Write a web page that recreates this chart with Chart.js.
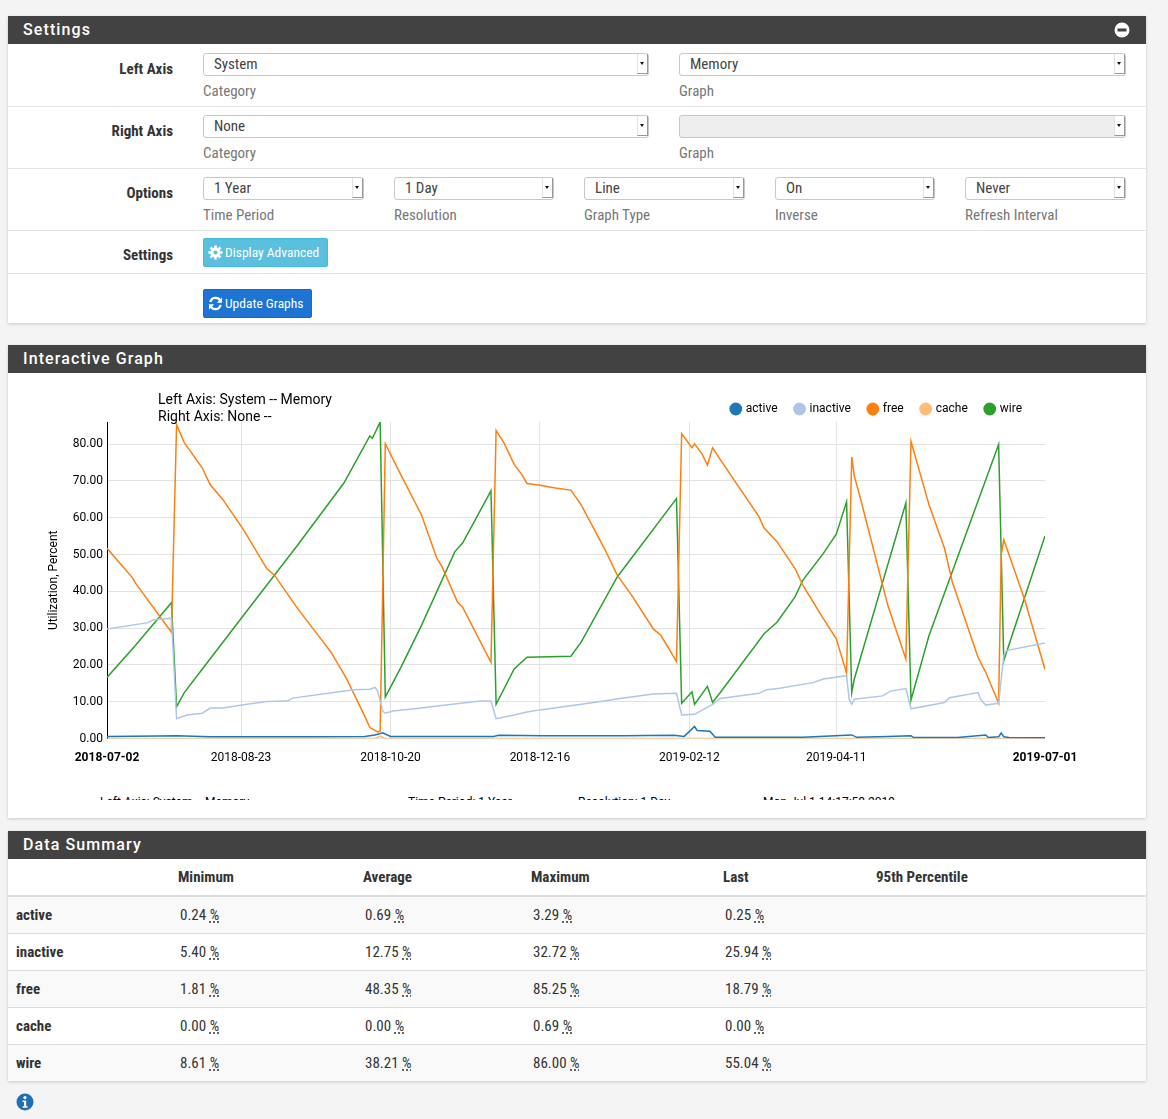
<!DOCTYPE html>
<html>
<head>
<meta charset="utf-8">
<title>Status: Monitoring</title>
<script src="https://cdn.jsdelivr.net/npm/chart.js@4.4.1/dist/chart.umd.min.js"></script>
<style>
  body { margin: 0; background: #f4f4f4; font-family: "Roboto Condensed", "Liberation Sans Narrow", Roboto, sans-serif; color: #333; }
  .abs { position: absolute; }
  .panel { position: absolute; left: 8px; width: 1138px; background: #fff; box-shadow: 0 1px 3px rgba(0,0,0,.18); }
  .ph { position: absolute; left: 0; top: 0; width: 100%; height: 28px; background: #424242; color: #fff;
        font-family: Roboto, sans-serif; font-size: 16px; font-weight: 500; letter-spacing: 1.1px; line-height: 28px; text-indent: 15px; }
  .hr { position: absolute; left: 0; width: 100%; height: 1px; background: #e4e4e4; }
  .lbl { position: absolute; width: 165px; text-align: right; font-weight: bold; font-size: 15px; line-height: 20px; color: #333; }
  .help { position: absolute; font-size: 15px; line-height: 20px; color: #777; }
  .sel { position: absolute; height: 23px; box-sizing: border-box; border: 1px solid #c8c8c8; border-radius: 3px; background: #fff;
         font-size: 15px; line-height: 21px; padding-left: 10px; color: #444; }
  .sel.dis { background: #eee; }
  .sel .arr { position: absolute; right: 0; top: 0; width: 9px; height: 19px; background: #fff; border-right: 1px solid #999; border-bottom: 1px solid #999; border-left: 1px solid #e2e2e2; }
  .sel .arr:after { content: ""; position: absolute; left: 2px; top: 8px; border-left: 2.5px solid transparent; border-right: 2.5px solid transparent; border-top: 3px solid #111; }
  .btn { position: absolute; height: 29px; box-sizing: border-box; border-radius: 2px; color: #fff; font-size: 13.5px; line-height: 27px; padding-left: 4px; white-space: nowrap; }
  .btn svg { vertical-align: -3px; margin-right: 2px; }
  table { border-collapse: collapse; width: 100%; font-size: 15px; }
  th { text-align: left; font-weight: bold; height: 36px; padding: 0 8px; border-bottom: 2px solid #ddd; }
  td { height: 36px; padding: 0 8px 0 10px; border-top: 1px solid #ddd; }
  tbody tr:nth-child(odd) { background: #f9f9f9; }
  td.name { font-weight: bold; padding-left: 8px; }
  abbr { text-decoration: underline dotted; text-underline-offset: 2px; }
  .foot { position: absolute; left: 0; top: 451px; width: 100%; height: 4px; overflow: hidden; }
  .foot span { position: absolute; top: -1px; font-family: Roboto, sans-serif; font-size: 12px; line-height: 14px; color: #000; white-space: nowrap; }
</style>
</head>
<body>

<!-- Settings panel -->
<div class="panel" style="top:16px;height:307px;">
  <div class="ph">Settings
    <svg class="abs" style="right:16px;top:6px" width="16" height="16" viewBox="0 0 16 16"><circle cx="8" cy="8" r="7.5" fill="#fff"/><rect x="3.5" y="6.5" width="9" height="3" fill="#424242"/></svg>
  </div>
  <div class="hr" style="top:90px"></div>
  <div class="hr" style="top:152px"></div>
  <div class="hr" style="top:214px"></div>
  <div class="hr" style="top:257px"></div>

  <div class="lbl" style="top:43px">Left Axis</div>
  <div class="sel" style="left:195px;top:37px;width:446px">System<span class="arr"></span></div>
  <div class="help" style="left:195px;top:65px">Category</div>
  <div class="sel" style="left:671px;top:37px;width:447px">Memory<span class="arr"></span></div>
  <div class="help" style="left:671px;top:65px">Graph</div>

  <div class="lbl" style="top:105px">Right Axis</div>
  <div class="sel" style="left:195px;top:99px;width:446px">None<span class="arr"></span></div>
  <div class="help" style="left:195px;top:127px">Category</div>
  <div class="sel dis" style="left:671px;top:99px;width:447px"><span class="arr"></span></div>
  <div class="help" style="left:671px;top:127px">Graph</div>

  <div class="lbl" style="top:167px">Options</div>
  <div class="sel" style="left:195px;top:161px;width:161px">1 Year<span class="arr"></span></div>
  <div class="help" style="left:195px;top:189px">Time Period</div>
  <div class="sel" style="left:386px;top:161px;width:160px">1 Day<span class="arr"></span></div>
  <div class="help" style="left:386px;top:189px">Resolution</div>
  <div class="sel" style="left:576px;top:161px;width:161px">Line<span class="arr"></span></div>
  <div class="help" style="left:576px;top:189px">Graph Type</div>
  <div class="sel" style="left:767px;top:161px;width:160px">On<span class="arr"></span></div>
  <div class="help" style="left:767px;top:189px">Inverse</div>
  <div class="sel" style="left:957px;top:161px;width:161px">Never<span class="arr"></span></div>
  <div class="help" style="left:957px;top:189px">Refresh Interval</div>

  <div class="lbl" style="top:229px">Settings</div>
  <div class="btn" style="left:195px;top:222px;width:125px;background:#5bc0de;border:1px solid #46b8da;">
    <svg width="15" height="15" viewBox="0 0 16 16"><g fill="#fff"><circle cx="8" cy="8" r="5.2"/><rect x="6.6" y="0.5" width="2.8" height="15"/><rect x="0.5" y="6.6" width="15" height="2.8"/><rect x="6.6" y="0.5" width="2.8" height="15" transform="rotate(45 8 8)"/><rect x="6.6" y="0.5" width="2.8" height="15" transform="rotate(-45 8 8)"/></g><circle cx="8" cy="8" r="2.2" fill="#5bc0de"/></svg>Display Advanced</div>

  <div class="btn" style="left:195px;top:273px;width:109px;background:#1e74d3;border:1px solid #1a68bf;">
    <svg width="15" height="15" viewBox="0 0 16 16"><path d="M13.2 5.2A5.6 5.6 0 0 0 2.6 6.5" stroke="#fff" stroke-width="2.4" fill="none"/><path d="M2.8 10.8a5.6 5.6 0 0 0 10.6-1.3" stroke="#fff" stroke-width="2.4" fill="none"/><path d="M15 1.5v5.6H9.4z M1 14.5V8.9h5.6z" fill="#fff"/></svg>Update Graphs</div>
</div>

<!-- Interactive graph panel -->
<div class="panel" style="top:345px;height:473px;">
  <div class="ph">Interactive Graph</div>
  <div class="abs" style="left:0;top:35px;width:1138px;height:412px;">
    <canvas id="chart"></canvas>
  </div>
  <div class="abs" style="left:150px;top:46px;font-family:Roboto,sans-serif;font-size:14px;line-height:17px;color:#000;white-space:nowrap;">Left Axis: System -- Memory<br>Right Axis: None --</div>
  <div class="foot">
    <span style="left:92px">Left Axis: System -- Memory</span>
    <span style="left:400px">Time Period: 1 Year</span>
    <span style="left:570px">Resolution: 1 Day</span>
    <span style="left:755px">Mon Jul 1 14:17:58 2019</span>
  </div>
</div>

<!-- Data summary panel -->
<div class="panel" style="top:831px;height:250px;">
  <div class="ph">Data Summary</div>
  <div class="abs" style="left:0;top:28px;width:1138px;">
    <table>
      <colgroup><col style="width:162px"><col style="width:185px"><col style="width:168px"><col style="width:192px"><col style="width:153px"><col></colgroup>
      <thead><tr><th></th><th>Minimum</th><th>Average</th><th>Maximum</th><th>Last</th><th>95th Percentile</th></tr></thead>
      <tbody id="summary"></tbody>
    </table>
  </div>
</div>

<svg class="abs" style="left:16px;top:1093px" width="18" height="18" viewBox="0 0 18 18"><circle cx="9" cy="9" r="8.5" fill="#1f6fb5"/><circle cx="9" cy="4.6" r="1.6" fill="#fff"/><path d="M6.6 7.4h3.6v5.8h1.4v1.6H6.6v-1.6h1.4V9H6.6z" fill="#fff"/></svg>

<script>
// x positions are days since 2018-07-02
const tickDays = [0, 52, 110, 168, 226, 283, 364];
const tickLabels = ["2018-07-02", "2018-08-23", "2018-10-20", "2018-12-16", "2019-02-12", "2019-04-11", "2019-07-01"];
const yTicks = [0, 10, 20, 30, 40, 50, 60, 70, 80];

const seriesNames = ["active", "inactive", "free", "cache", "wire"];
const seriesColors = ["#1f77b4", "#aec7e8", "#ff7f0e", "#ffbb78", "#2ca02c"];

const activeDays = [0, 20, 27, 40, 60, 80, 100, 104, 107, 110, 130, 150, 152, 170, 200, 220, 224, 228, 229, 234, 236, 250, 270, 289, 291, 303, 312, 313, 330, 341, 342, 346, 347, 348, 350, 364];
const activeVals = [0.6, 0.7, 0.8, 0.5, 0.5, 0.5, 0.6, 1.0, 1.6, 0.6, 0.6, 0.6, 0.9, 0.8, 0.8, 0.9, 0.6, 3.29, 2.2, 2.0, 0.4, 0.4, 0.35, 1.0, 0.35, 0.6, 0.8, 0.3, 0.3, 1.0, 0.3, 0.5, 1.5, 0.5, 0.3, 0.25];

const inactiveDays = [0, 16, 18, 25, 27, 31, 37, 40, 45, 53, 62, 70, 72, 88, 96, 102, 104, 105, 107, 108, 111, 122, 129, 145, 149, 151, 158, 163, 168, 191, 199, 212, 221, 223, 228, 235, 238, 253, 256, 261, 274, 278, 287, 288, 289, 290, 301, 304, 310, 312, 325, 327, 338, 339, 341, 346, 348, 349, 364];
const inactiveVals = [29.8, 31.5, 32.3, 32.72, 5.4, 6.4, 6.9, 8.3, 8.3, 9.2, 10.1, 10.2, 11.0, 12.5, 13.3, 13.4, 13.9, 13.0, 7.5, 6.9, 7.5, 8.3, 8.9, 10.2, 10.2, 5.4, 6.4, 7.2, 7.8, 10.0, 10.9, 12.1, 12.3, 6.4, 6.6, 9.3, 10.9, 12.3, 13.3, 13.7, 15.2, 16.2, 17.1, 10.7, 9.3, 10.7, 11.6, 12.9, 13.6, 8.1, 9.8, 11.1, 12.5, 10.7, 9.1, 9.6, 22.5, 23.9, 25.94];

const freeDays = [0, 10, 11, 25, 27, 30, 37, 40, 45, 53, 62, 65, 74, 83, 87, 93, 100, 102, 105, 106, 108, 114, 122, 128, 130, 136, 138, 149, 151, 154, 158, 161, 163, 168, 174, 180, 184, 193, 198, 204, 212, 215, 221, 223, 227, 228, 231, 233, 235, 238, 253, 255, 260, 267, 270, 278, 283, 287, 289, 290, 292, 303, 310, 312, 319, 325, 328, 338, 341, 346, 347, 348, 356, 364];
const freeVals = [51.7, 43.6, 42.3, 28.9, 85.25, 80.4, 73.5, 69.0, 64.9, 56.7, 46.2, 44.4, 35.3, 27.1, 23.4, 16.2, 6.1, 3.0, 1.81, 2.0, 80.1, 71.7, 60.8, 49.0, 46.7, 37.1, 35.7, 20.7, 83.7, 80.4, 74.5, 71.7, 69.3, 68.8, 68.1, 67.5, 63.5, 51.7, 44.4, 38.5, 29.8, 28.0, 20.9, 82.8, 79.0, 80.1, 77.2, 74.3, 79.0, 75.8, 60.3, 57.2, 53.5, 46.2, 41.7, 32.6, 27.1, 17.8, 76.5, 71.3, 66.3, 36.2, 21.6, 80.7, 63.5, 51.7, 42.6, 22.1, 18.0, 9.6, 49.9, 54.0, 38.0, 18.79];

const cacheDays = [0, 104, 106, 108, 364];
const cacheVals = [0, 0, 0.69, 0, 0];

const wireDays = [0, 11, 25, 27, 30, 37, 53, 74, 92, 102, 103, 106, 108, 114, 122, 135, 138, 149, 151, 158, 163, 180, 184, 198, 221, 223, 227, 228, 233, 235, 238, 255, 260, 267, 270, 278, 283, 287, 289, 290, 310, 312, 319, 346, 348, 364];
const wireVals = [16.6, 25.3, 36.9, 8.61, 12.5, 18.9, 33.5, 52.6, 69.5, 82.2, 81.6, 86.0, 11.3, 19.3, 30.7, 50.8, 53.1, 67.3, 9.3, 18.9, 22.1, 22.4, 26.2, 43.9, 65.2, 9.6, 12.7, 9.3, 14.2, 9.8, 12.5, 28.5, 31.6, 38.5, 43.0, 50.3, 55.5, 64.3, 12.5, 16.2, 64.0, 10.5, 28.0, 79.9, 21.2, 55.04];

const summaryMin = ["0.24", "5.40", "1.81", "0.00", "8.61"];
const summaryAvg = ["0.69", "12.75", "48.35", "0.00", "38.21"];
const summaryMax = ["3.29", "32.72", "85.25", "0.69", "86.00"];
const summaryLast = ["0.25", "25.94", "18.79", "0.00", "55.04"];

const seriesDays = [activeDays, inactiveDays, freeDays, cacheDays, wireDays];
const seriesVals = [activeVals, inactiveVals, freeVals, cacheVals, wireVals];

// summary table
const tbody = document.getElementById("summary");
seriesNames.forEach((name, i) => {
  const tr = document.createElement("tr");
  const cells = [summaryMin[i], summaryAvg[i], summaryMax[i], summaryLast[i]]
    .map(v => `<td>${v} <abbr title="percent">%</abbr></td>`).join("");
  tr.innerHTML = `<td class="name">${name}</td>${cells}<td></td>`;
  tbody.appendChild(tr);
});

const datasets = seriesNames.map((name, i) => ({
  label: name,
  data: seriesDays[i].map((d, j) => ({ x: d, y: seriesVals[i][j] })),
  borderColor: seriesColors[i],
  backgroundColor: seriesColors[i],
  borderWidth: 1.5,
  pointRadius: 0,
  tension: 0
}));

const font = { family: "Roboto, sans-serif", size: 12 };

// nudge legend: a bit left of the plot's right edge, a bit lower
const legendShift = {
  id: "legendShift",
  afterLayout(chart) {
    const lg = chart.legend;
    if (!lg) return;
    lg.right -= 5;
    lg.top += 3;
    lg.bottom += 3;
  }
};

new Chart(document.getElementById("chart"), {
  type: "line",
  data: { datasets },
  plugins: [legendShift],
  options: {
    animation: false,
    responsive: true,
    maintainAspectRatio: false,
    layout: { padding: { left: 35, right: 101, top: 2, bottom: 15 } },
    plugins: {
      legend: {
        position: "top",
        align: "end",
        labels: { usePointStyle: true, pointStyle: "circle", boxWidth: 8, boxHeight: 8, padding: 18, color: "#000", font }
      },
      tooltip: { enabled: false }
    },
    scales: {
      x: {
        type: "linear",
        min: 0,
        max: 364,
        afterBuildTicks: s => { s.ticks = tickDays.map(v => ({ value: v })); },
        ticks: {
          autoSkip: false,
          maxRotation: 0,
          padding: 12,
          color: "#000",
          font: c => ({ family: "Roboto, sans-serif", size: 12, weight: (c.index === 0 || c.index === tickDays.length - 1) ? "bold" : "normal" }),
          callback: (v, i) => tickLabels[i]
        },
        grid: {
          drawTicks: false,
          color: c => (c.index === 0 || c.index === tickDays.length - 1) ? "rgba(0,0,0,0)" : "#e2e2e2"
        },
        border: { display: false }
      },
      y: {
        min: 0,
        max: 86,
        afterBuildTicks: s => { s.ticks = yTicks.map(v => ({ value: v })); },
        afterFit: s => { s.width = 64; },
        ticks: { padding: 4, color: "#000", font, callback: v => v.toFixed(2) },
        grid: { drawTicks: false, color: "#e2e2e2" },
        border: { display: true, color: "#000", width: 1 },
        title: { display: true, text: "Utilization, Percent", color: "#000", font }
      }
    }
  }
});
</script>
</body>
</html>
